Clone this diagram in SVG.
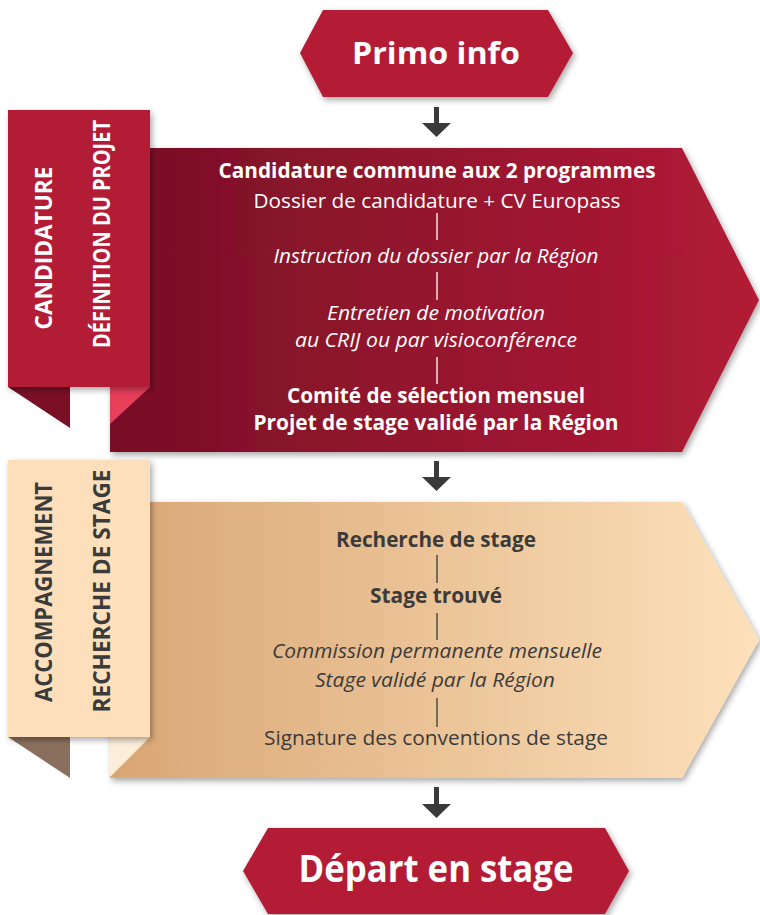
<svg xmlns="http://www.w3.org/2000/svg" width="760" height="915" viewBox="0 0 760 915">
<defs>
<linearGradient id="gRed" x1="0" y1="0" x2="1" y2="0">
<stop offset="0" stop-color="#780f26"/>
<stop offset="1" stop-color="#b21b36"/>
</linearGradient>
<linearGradient id="gTan" x1="0" y1="0" x2="1" y2="0">
<stop offset="0" stop-color="#d9a674"/>
<stop offset="1" stop-color="#fde1bb"/>
</linearGradient>
<filter id="sh" x="-10%" y="-10%" width="125%" height="130%">
<feDropShadow dx="2" dy="3" stdDeviation="3" flood-color="#000" flood-opacity="0.35"/>
</filter>
<style>
text{font-family:"Open Sans","Noto Sans","Liberation Sans",sans-serif;text-anchor:middle}
.w{fill:#fff}
.g{fill:#3b3b3b}
.b{font-weight:bold}
.i{font-style:italic}
.m{font-size:20.5px}
.tab{font-size:24px;font-weight:bold}
.title{font-weight:bold;fill:#fff}
.sepw{stroke:#fff;stroke-width:1.3}
.sepg{stroke:#3b3b3b;stroke-width:1.3}
.arr{fill:#3a3a3a}
</style>
</defs>

<g id="primo-info">
<polygon points="300,53 323,10 548,10 573,53 548,97 323,97" fill="#b41a35" filter="url(#sh)"/>
<text x="436" y="64" class="title" font-size="31" textLength="168" lengthAdjust="spacingAndGlyphs">Primo info</text>
</g>

<g id="candidature">
<polygon points="110,148 682,148 759,300 682,452 110,452" fill="url(#gRed)" filter="url(#sh)"/>
<text x="437" y="178" class="w b m" textLength="437" lengthAdjust="spacingAndGlyphs">Candidature commune aux 2 programmes</text>
<text x="437" y="208" class="w m" textLength="367" lengthAdjust="spacingAndGlyphs">Dossier de candidature + CV Europass</text>
<line x1="437" y1="213" x2="437" y2="240" class="sepw"/>
<text x="436" y="263" class="w i m" textLength="325" lengthAdjust="spacingAndGlyphs">Instruction du dossier par la Région</text>
<line x1="437" y1="272" x2="437" y2="300" class="sepw"/>
<text x="436" y="320" class="w i m" textLength="218" lengthAdjust="spacingAndGlyphs">Entretien de motivation</text>
<text x="436" y="347" class="w i m" textLength="282" lengthAdjust="spacingAndGlyphs">au CRIJ ou par visioconférence</text>
<line x1="437" y1="357" x2="437" y2="384" class="sepw"/>
<text x="436" y="403" class="w b m" textLength="298" lengthAdjust="spacingAndGlyphs">Comité de sélection mensuel</text>
<text x="436" y="430" class="w b m" textLength="365" lengthAdjust="spacingAndGlyphs">Projet de stage validé par la Région</text>
</g>

<g id="tab-candidature">
<polygon points="8,387 70,387 70,428" fill="#7a0f26"/>
<polygon points="110,387 150,387 110,424" fill="#e83f5b"/>
<rect x="8" y="110" width="142" height="277" fill="#b31a35" filter="url(#sh)"/>
<text transform="translate(52,248) rotate(-90)" class="w tab" textLength="163" lengthAdjust="spacingAndGlyphs">CANDIDATURE</text>
<text transform="translate(110,234) rotate(-90)" class="w tab" textLength="228" lengthAdjust="spacingAndGlyphs">DÉFINITION DU PROJET</text>
</g>

<g id="recherche">
<polygon points="110,502 682,502 759,640 682,778 110,778" fill="url(#gTan)" filter="url(#sh)"/>
<text x="436" y="547" class="g b m" textLength="200" lengthAdjust="spacingAndGlyphs">Recherche de stage</text>
<line x1="437" y1="555" x2="437" y2="583" class="sepg"/>
<text x="436" y="603" class="g b m" textLength="132" lengthAdjust="spacingAndGlyphs">Stage trouvé</text>
<line x1="437" y1="613" x2="437" y2="640" class="sepg"/>
<text x="437" y="658" class="g i m" textLength="330" lengthAdjust="spacingAndGlyphs">Commission permanente mensuelle</text>
<text x="435" y="687" class="g i m" textLength="240" lengthAdjust="spacingAndGlyphs">Stage validé par la Région</text>
<line x1="437" y1="698" x2="437" y2="727" class="sepg"/>
<text x="436" y="745" class="g m" textLength="344" lengthAdjust="spacingAndGlyphs">Signature des conventions de stage</text>
</g>

<g id="tab-accompagnement">
<polygon points="8,737 70,737 70,778" fill="#8b6f5e"/>
<polygon points="110,737 150,737 110,777" fill="#fdeedc"/>
<rect x="8" y="460" width="142" height="277" fill="#fde0bb" filter="url(#sh)"/>
<text transform="translate(52,592) rotate(-90)" class="g tab" textLength="220" lengthAdjust="spacingAndGlyphs">ACCOMPAGNEMENT</text>
<text transform="translate(110,591) rotate(-90)" class="g tab" textLength="243" lengthAdjust="spacingAndGlyphs">RECHERCHE DE STAGE</text>
</g>

<g id="depart">
<polygon points="243,871 268,828 605,828 629,871 605,914 268,914" fill="#b41a35" filter="url(#sh)"/>
<text x="436" y="882" class="title" font-size="37" textLength="275" lengthAdjust="spacingAndGlyphs">Départ en stage</text>
</g>

<g id="connectors">
<polygon class="arr" points="434,107 439,107 439,123 451,123 436.5,137 422,123 434,123"/>
<polygon class="arr" points="434,461 439,461 439,477 451,477 436.5,491 422,477 434,477"/>
<polygon class="arr" points="434,787 439,787 439,804 451,804 436.5,818 422,804 434,804"/>
</g>
</svg>
